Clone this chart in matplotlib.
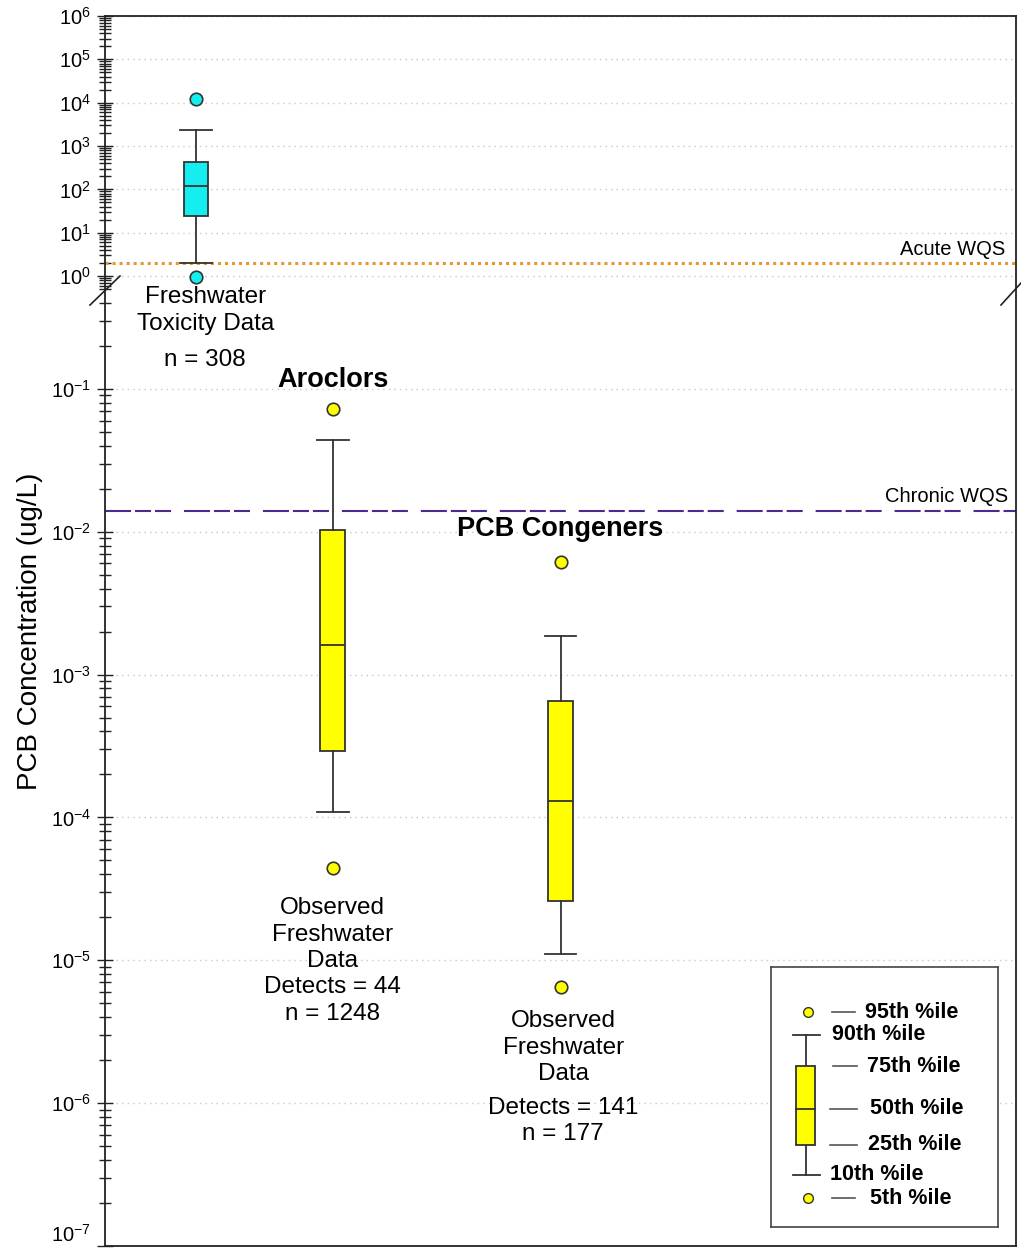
import numpy as np
import matplotlib
matplotlib.use('Agg')
import matplotlib.pyplot as plt
from matplotlib.lines import Line2D
from matplotlib.patches import Rectangle

plt.rcParams['font.family'] = ['Liberation Sans', 'DejaVu Sans']
plt.rcParams['mathtext.fontset'] = 'custom'
plt.rcParams['mathtext.rm'] = 'Liberation Sans'
plt.rcParams['mathtext.default'] = 'regular'

# percentile summaries (ug/L) for each data set
groups = ['Freshwater Toxicity', 'Aroclors', 'PCB Congeners']
p5 = [0.95, 4.4e-5, 6.5e-6]
p10 = [2.0, 1.1e-4, 1.1e-5]
p25 = [24.5, 2.9e-4, 2.6e-5]
p50 = [119, 1.6e-3, 1.3e-4]
p75 = [420, 1.03e-2, 6.5e-4]
p90 = [2300, 0.044, 1.85e-3]
p95 = [12400, 0.072, 6.1e-3]
positions = [0.1, 0.25, 0.5]
colors = ['#14EEF0', '#FFFF00', '#FFFF00']

acute_wqs = 2.0
chronic_wqs = 0.014

# broken log axis: upper decades squeezed above 0.5
BRK = np.log10(0.5)
R = 43.3 / 142.7


def fwd(v):
    t = np.log10(np.clip(v, 1e-300, None))
    return np.where(t <= BRK, t, BRK + (t - BRK) * R)


def inv(f):
    f = np.asarray(f, float)
    with np.errstate(over='ignore'):
        return np.where(f <= BRK, 10.0 ** f, 10.0 ** (BRK + (f - BRK) / R))


fig = plt.figure(figsize=(10.21, 12.53), dpi=100)
ax = fig.add_axes([105 / 1021, 7 / 1253, 911 / 1021, 1230 / 1253])
ax.set_yscale('function', functions=(fwd, inv))
ax.set_ylim(1e-7, 1e6)
ax.set_xlim(0, 1)

decades = np.arange(-7, 7)
ax.set_yticks(10.0 ** decades, [f'$10^{{{k}}}$' for k in decades])
minor = [m * 10.0 ** k for k in range(-7, 6) for m in range(2, 10)]
ax.set_yticks(minor, minor=True)
ax.set_xticks([])
ax.tick_params(axis='y', which='major', direction='inout', length=12,
               width=1.0, labelsize=14.5, pad=4, color='#222')
ax.tick_params(axis='y', which='minor', direction='inout', length=9,
               width=1.0, color='#222')
ax.get_yticklabels()[0].set_verticalalignment('bottom')
ax.yaxis.grid(True, which='major', ls=(0, (1, 3)), color='#c8c8c8', lw=1)
ax.set_axisbelow(True)
for s in ax.spines.values():
    s.set_linewidth(1.3)
    s.set_color('#222')

ax.set_ylabel('PCB Concentration (ug/L)', fontsize=20)
ax.yaxis.set_label_coords(-0.068, 0.5)

stats = []
for i, g in enumerate(groups):
    stats.append(dict(label=g, med=p50[i], q1=p25[i], q3=p75[i],
                      whislo=p10[i], whishi=p90[i], fliers=[p5[i], p95[i]]))

edge = '#333333'
bp = ax.bxp(stats, positions=positions, widths=0.027, capwidths=0.035,
            patch_artist=True, manage_ticks=False,
            boxprops=dict(edgecolor=edge, linewidth=1.3),
            medianprops=dict(color=edge, linewidth=1.3),
            whiskerprops=dict(color=edge, linewidth=1.3),
            capprops=dict(color=edge, linewidth=1.3),
            flierprops=dict(marker='o', markersize=9, markeredgecolor=edge,
                            markeredgewidth=1.2))
for box, c, fl in zip(bp['boxes'], colors, bp['fliers']):
    box.set_facecolor(c)
    fl.set_markerfacecolor(c)

# water quality standards
ax.axhline(acute_wqs, color='#E8962E', ls=(0, (1, 1.3)), lw=2.2, zorder=1)
ax.axhline(chronic_wqs, color='#4B2C8C', lw=1.5, zorder=1,
           ls=(0, (12.5, 1.9, 7.7, 1.9, 7.7, 6.2)))
ax.text(0.988, 4.2, 'Acute WQS', ha='right', va='center', fontsize=14.5)
ax.text(0.991, 0.0178, 'Chronic WQS', ha='right', va='center', fontsize=14.5)

# group labels
ax.text(0.11, 0.352, 'Freshwater\nToxicity Data', ha='center', va='center',
        fontsize=17.5, linespacing=1.3)
ax.text(0.11, 0.16, 'n = 308', ha='center', va='center', fontsize=17.5)
ax.text(0.25, 0.116, 'Aroclors', ha='center', va='center', fontsize=19.5,
        fontweight='bold')
ax.text(0.5, 0.01045, 'PCB Congeners', ha='center', va='center',
        fontsize=19.5, fontweight='bold')
ax.text(0.25, 9.9e-6, 'Observed\nFreshwater\nData\nDetects = 44\nn = 1248',
        ha='center', va='center', fontsize=17.5, linespacing=1.26)
ax.text(0.503, 2.45e-6, 'Observed\nFreshwater\nData', ha='center',
        va='center', fontsize=17.5, linespacing=1.26)
ax.text(0.503, 7.5e-7, 'Detects = 141\nn = 177', ha='center', va='center',
        fontsize=17.5, linespacing=1.26)

# axis break marks
for (x0, y0), (x1, y1) in [((90, 305), (120, 276)), ((1001, 305), (1021, 283))]:
    fig.add_artist(Line2D([x0 / 1021, x1 / 1021], [1 - y0 / 1253, 1 - y1 / 1253],
                          color='#222', lw=1.2))

# percentile key
lg = fig.add_axes([771 / 1021, 1 - 1227 / 1253, 227 / 1021, 260 / 1253])
lg.set_xlim(771, 998)
lg.set_ylim(1227, 967)
lg.set_xticks([])
lg.set_yticks([])
for s in lg.spines.values():
    s.set_linewidth(1.2)
    s.set_color('#444')
lg.plot([806, 806], [1035, 1175], color=edge, lw=1.3)
lg.plot([793, 820], [1035, 1035], color=edge, lw=1.3)
lg.plot([793, 820], [1175, 1175], color=edge, lw=1.3)
lg.add_patch(Rectangle((796, 1066), 19, 79, facecolor='#FFFF00',
                       edgecolor=edge, lw=1.3, zorder=3))
lg.plot([796, 815], [1109, 1109], color=edge, lw=1.3, zorder=4)
lg.plot([808, 808], [1012, 1198], ls='none', marker='o', markersize=7,
        markerfacecolor='#FFFF00', markeredgecolor=edge, markeredgewidth=1)
key = [(1012, 832, 855, 865, '95th %ile'),
       (1035, None, None, 832, '90th %ile'),
       (1066, 833, 857, 867, '75th %ile'),
       (1109, 830, 857, 870, '50th %ile'),
       (1145, 830, 857, 868, '25th %ile'),
       (1175, None, None, 830, '10th %ile'),
       (1198, 832, 855, 870, '5th %ile')]
for y, d0, d1, tx, lab in key:
    if d0 is not None:
        lg.plot([d0, d1], [y, y], color='#555', lw=1.2)
    lg.text(tx, y, lab, ha='left', va='center', fontsize=15.5,
            fontweight='bold')

fig.savefig('out.png', dpi=100)
